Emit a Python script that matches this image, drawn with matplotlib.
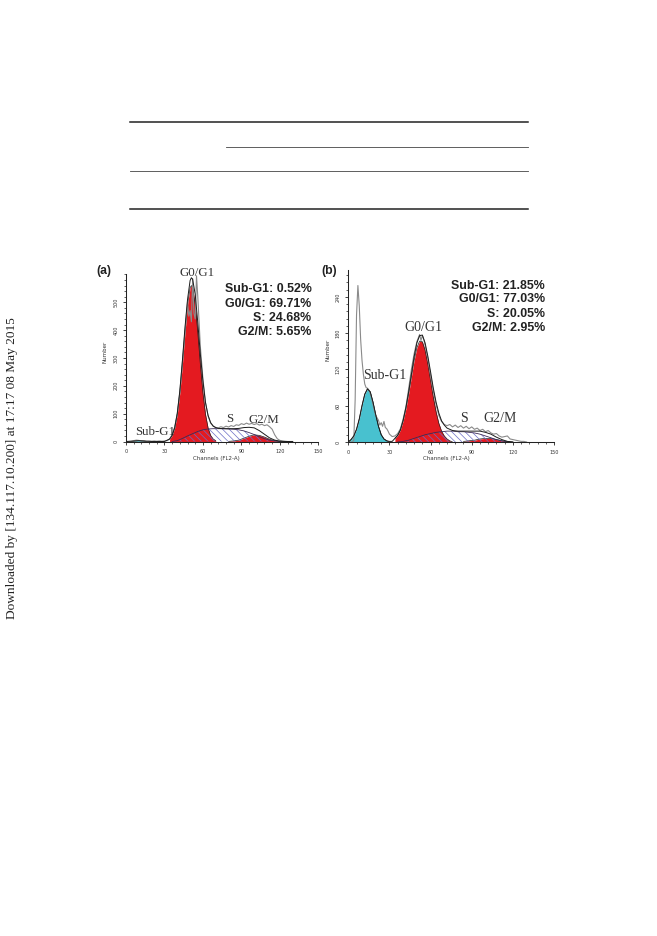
import numpy as np
import matplotlib
matplotlib.use("Agg")
from matplotlib import pyplot as plt

# ---- panel (a): channel / count readings (ModFit components) ----
a_sub_ch = [4, 7, 10, 13, 16]
a_sub_n = [0, 2, 3, 2, 0]

a_g1_ch = [34, 36, 38, 40, 42, 44, 46, 48, 50, 51, 52, 54, 56, 58, 60, 62, 64, 66, 68, 70]
a_g1_n = [9, 22, 49, 98, 175, 277, 391, 492, 552, 560, 552, 492, 391, 277, 175, 98, 49, 22, 9, 3]

a_s_ch = [36, 40, 44, 48, 52, 56, 60, 64, 68, 72, 76, 80, 84, 88, 92, 96, 100, 104, 108, 112, 116, 120]
a_s_n = [0, 3, 11, 20, 28, 36, 42, 45, 46, 46, 46, 45, 44, 42, 38, 32, 25, 17, 10, 5, 2, 0]

a_g2_ch = [80, 84, 88, 92, 96, 100, 104, 108, 112, 116, 120, 124]
a_g2_n = [0.5, 2, 5, 12, 19, 24, 22, 16, 8, 3, 1, 0]

a_fit_ch = [0, 4, 7, 10, 13, 16, 20, 30, 34, 36, 38, 40, 42, 44, 46, 48, 50, 51, 52, 54, 56, 58,
            60, 62, 64, 66, 68, 70, 72, 76, 80, 84, 88, 92, 96, 100, 104, 108, 112, 116, 120, 124, 130]
a_fit_n = [0, 1, 2, 3, 2, 1, 0, 0, 9, 22, 50, 101, 182, 290, 409, 510, 578, 588, 582, 528, 427, 313,
           217, 140, 94, 68, 55, 50, 47, 46, 46, 46, 47, 50, 51, 49, 39, 26, 13, 5, 1, 0, 0]

a_raw_ch = [0, 2, 4, 6, 8, 10, 12, 14, 16, 18, 20, 22, 24, 26, 28, 30, 32, 34, 36, 38, 40, 42, 44,
            46, 48, 49, 50, 51, 52, 53, 54, 55, 56, 57, 58, 60, 62, 64, 66, 68, 70, 72, 74, 76, 78,
            80, 82, 84, 86, 88, 90, 92, 94, 96, 98, 100, 102, 104, 106, 108, 110, 112, 114, 116,
            118, 120, 122, 124, 126, 130]
a_raw_n = [0, 0, 1, 3, 5, 4, 2, 3, 1, 2, 1, 2, 1, 2, 1, 2, 3, 8, 24, 52, 100, 178, 285,
           395, 500, 450, 470, 430, 585, 460, 440, 595, 520, 430, 340, 225, 140, 92, 66, 56, 50, 49, 53, 50, 55,
           52, 57, 54, 60, 58, 64, 61, 66, 62, 65, 61, 64, 59, 62, 57, 60, 53, 44, 24,
           10, 4, 2, 1, 0, 0]

a_stats = ["Sub-G1: 0.52%", "G0/G1: 69.71%", "S: 24.68%", "G2/M: 5.65%"]

# ---- panel (b) ----
b_sub_ch = [0, 2, 4, 6, 8, 10, 12, 14, 16, 18, 20, 22, 24, 26, 28, 30]
b_sub_n = [0, 4, 10, 21, 38, 60, 79, 88, 83, 66, 45, 26, 12, 5, 2, 0]

b_g1_ch = [34, 36, 38, 40, 42, 44, 46, 48, 50, 52, 54, 56, 58, 60, 62, 64, 66, 68, 70, 72, 74, 76]
b_g1_n = [6, 11, 20, 35, 55, 80, 108, 135, 156, 167, 166, 152, 129, 102, 74, 50, 31, 18, 10, 5, 2, 0]

b_s_ch = [36, 40, 44, 48, 52, 56, 60, 64, 68, 72, 76, 80, 84, 88, 92, 96, 100, 104, 108, 112, 116]
b_s_n = [0, 1, 3, 6, 9, 12, 14, 16, 17, 18, 18, 17, 17, 16, 15, 13, 10, 7, 4, 2, 0]

b_g2_ch = [84, 88, 92, 96, 100, 104, 108, 112, 116, 120]
b_g2_n = [1, 2, 3, 5, 6, 6, 4, 2, 1, 0]

b_fit_ch = [0, 2, 4, 6, 8, 10, 12, 14, 16, 18, 20, 22, 24, 26, 28, 30, 32, 34, 36, 38, 40, 42, 44,
            46, 48, 50, 52, 54, 56, 58, 60, 62, 64, 66, 68, 70, 72, 76, 80, 84, 88, 92, 96, 100,
            104, 108, 112, 116, 120]
b_fit_n = [0, 4, 10, 21, 38, 60, 79, 88, 83, 66, 45, 26, 12, 5, 2, 1, 1, 6, 11, 20, 36, 57, 83,
           112, 141, 164, 176, 177, 164, 142, 116, 89, 66, 48, 35, 28, 23, 19, 18, 18, 18, 18, 18, 16,
           13, 8, 4, 1, 0]

b_raw_ch = [0, 3, 4, 5, 6, 7, 8, 9, 10, 11, 12, 13, 14, 15, 16, 17, 18, 19, 20, 21, 22, 23, 24, 25,
            26, 27, 28, 29, 30, 32, 34, 36, 38, 40, 42, 44, 46, 48, 50, 51, 52, 53, 54, 55, 56, 58,
            60, 62, 64, 66, 68, 70, 72, 74, 76, 78, 80, 82, 84, 86, 88, 90, 92, 94, 96, 98, 100,
            102, 104, 106, 108, 110, 112, 114, 116, 118, 120, 122, 124, 126, 128, 130]
b_raw_n = [0, 0, 3, 70, 210, 259, 225, 170, 135, 112, 96, 90, 89, 86, 80, 72, 62, 52, 44, 40, 36, 28, 32, 26,
           34, 24, 22, 18, 13, 9, 10, 14, 22, 38, 58, 88, 120, 146, 166, 172, 178, 168, 176, 170, 160, 138,
           110, 84, 62, 44, 34, 29, 27, 29, 25, 28, 24, 27, 23, 26, 22, 25, 21, 23, 19, 21, 17,
           19, 15, 13, 14, 10, 8, 9, 10, 5, 4, 3, 2, 1, 1, 0]

b_stats = ["Sub-G1: 21.85%", "G0/G1: 77.03%", "S: 20.05%", "G2/M: 2.95%"]

RED = "#e41a20"
CYAN = "#48c1cf"
HATCH = "#6a6ec6"
INK = "#222222"

plt.rcParams["hatch.linewidth"] = 0.5

fig = plt.figure(figsize=(6.57, 9.36), dpi=100)

# page layer in pixel coordinates
page = fig.add_axes([0, 0, 1, 1])
page.set_xlim(0, 657)
page.set_ylim(936, 0)
page.axis("off")

# empty table rules above the figure
page.plot([130, 528], [122.3, 122.3], color=INK, lw=1.1)
page.plot([226, 528], [147.3, 147.3], color="#444", lw=0.6)
page.plot([130, 528], [171.3, 171.3], color="#444", lw=0.6)
page.plot([130, 528], [208.7, 208.7], color=INK, lw=1.1)

page.text(11.7, 468, "Downloaded by [134.117.10.200] at 17:17 08 May 2015", rotation=90,
          ha="center", va="center", fontsize=9.6, family="Liberation Serif", color=INK)

page.text(96.7, 274.3, "(a)", fontsize=8.8, fontweight="bold", family="Liberation Sans", color=INK)
page.text(321.7, 274.3, "(b)", fontsize=8.8, fontweight="bold", family="Liberation Sans", color=INK)


def hist_axes(rect, ymax, major, minor):
    ax = fig.add_axes(rect)
    ax.patch.set_alpha(0)
    ax.set_xlim(0, 150)
    ax.set_ylim(0, ymax)
    for s in ("top", "right"):
        ax.spines[s].set_visible(False)
    for s in ("left", "bottom"):
        ax.spines[s].set_linewidth(0.75)
        ax.spines[s].set_color(INK)
    ax.set_xticks(range(0, 151, 30))
    ax.set_xticks(range(0, 151, 6), minor=True)
    ax.set_yticks(range(0, ymax, major))
    ax.set_yticks(range(0, ymax + 1, minor), minor=True)
    ax.tick_params(which="major", length=2.2, width=0.6, labelsize=3.5, pad=3.2,
                   colors=INK, labelcolor="#333")
    ax.tick_params(which="minor", length=1.3, width=0.5, colors=INK)
    plt.setp(ax.get_yticklabels(), rotation=90, va="center")
    ax.set_xlabel("Channels (FL2-A)", fontsize=4.0, color="#333")
    ax.set_ylabel("Number", fontsize=4.0, color="#333")
    return ax


def draw_components(ax, sub, sub_col, g1, s, g2, fit, raw):
    ax.fill_between(sub[0], sub[1], color=sub_col, lw=0, zorder=2)
    ax.plot(sub[0], sub[1], color=INK, lw=0.5, zorder=2.1)
    ax.fill_between(g2[0], g2[1], color=RED, lw=0, zorder=2)
    ax.plot(g2[0], g2[1], color=INK, lw=0.5, zorder=2.1)
    ax.fill_between(g1[0], g1[1], color=RED, lw=0, zorder=2)
    ax.plot(g1[0], g1[1], color=INK, lw=0.5, zorder=2.1)
    ax.fill_between(s[0], s[1], facecolor="none", edgecolor=HATCH, hatch="\\\\\\\\\\",
                    lw=0, zorder=2.5)
    ax.plot(s[0], s[1], color="#3b2b55", lw=0.6, zorder=2.6)
    ax.plot(raw[0], raw[1], color="#8a8a8a", lw=0.8, zorder=3)
    ax.plot(fit[0], fit[1], color="#1c1c1c", lw=0.7, zorder=3.1)


serif = dict(family="Liberation Serif", color="#333", ha="center", va="baseline")
stat = dict(family="Liberation Sans", fontweight="bold", color=INK, ha="right",
            va="baseline", fontsize=8.9)

# panel (a)
ax1 = hist_axes([126 / 657, 1 - 441.5 / 936, 192.3 / 657, 167.1 / 936], 600, 100, 20)
draw_components(ax1, (a_sub_ch, a_sub_n), CYAN, (a_g1_ch, a_g1_n), (a_s_ch, a_s_n),
                (a_g2_ch, a_g2_n), (a_fit_ch, a_fit_n), (a_raw_ch, a_raw_n))
ax1.xaxis.set_label_coords(0.47, -0.085)
ax1.yaxis.set_label_coords(-0.096, 0.535)
for txt, yv in zip(a_stats, [536, 484, 434, 382]):
    ax1.text(144.7, yv, txt, **stat)
ax1.text(55.1, 595, "G0/G1", fontsize=9.3, **serif)
ax1.text(22.6, 23, "Sub-G1", fontsize=9.3, **serif)
ax1.text(80.6, 71, "S", fontsize=9.3, **serif)
ax1.text(107.8, 67.5, "G2/M", fontsize=9.3, **serif)

# panel (b)
ax2 = hist_axes([348.3 / 657, 1 - 442 / 936, 205.7 / 657, 172.2 / 936], 285, 60, 12)
draw_components(ax2, (b_sub_ch, b_sub_n), CYAN, (b_g1_ch, b_g1_n), (b_s_ch, b_s_n),
                (b_g2_ch, b_g2_n), (b_fit_ch, b_fit_n), (b_raw_ch, b_raw_n))
ax2.xaxis.set_label_coords(0.478, -0.08)
ax2.yaxis.set_label_coords(-0.086, 0.534)
for txt, yv in zip(b_stats, [254, 231, 207, 184]):
    ax2.text(143.4, yv, txt, **stat)
ax2.text(55, 184, "G0/G1", fontsize=10, **serif)
ax2.text(26.8, 104, "Sub-G1", fontsize=10, **serif)
ax2.text(84.6, 33.6, "S", fontsize=10, **serif)
ax2.text(110.6, 33.6, "G2/M", fontsize=10, **serif)

fig.savefig("out.png", dpi=100)
